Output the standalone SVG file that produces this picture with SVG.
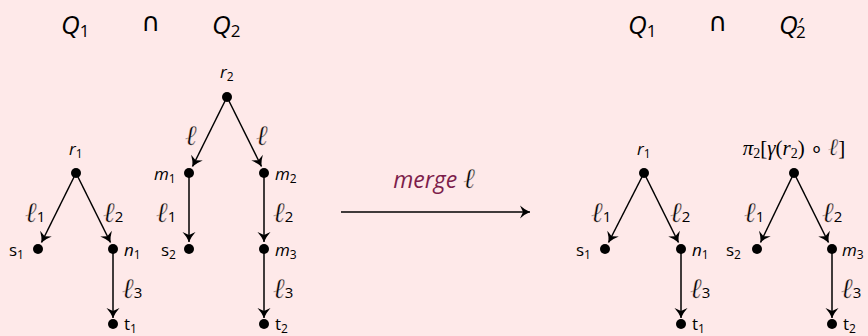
<svg xmlns="http://www.w3.org/2000/svg" width="868" height="336" viewBox="0 0 868 336">
<defs>
<style>
.t{font-family:"Open Sans","Noto Sans",sans-serif;font-size:17px;fill:#000}
.i{font-style:italic}
.s{font-family:"Open Sans","Noto Sans",sans-serif;font-size:12px;font-style:normal}
.q{font-family:"Open Sans","Noto Sans",sans-serif;font-size:26px;font-style:italic;fill:#000}
.qs{font-size:17px;font-style:normal}
.cap{font-family:"DejaVu Sans",sans-serif;font-size:26px;fill:#000}
.e{stroke:#000;stroke-width:1.5;fill:none;marker-end:url(#ah)}
.d{fill:#000}
.l{font-family:"DejaVu Serif",serif;font-style:italic;font-size:28px;fill:#000;stroke:#fee9e9;stroke-width:0.4}
.ls{font-family:"Open Sans","Noto Sans",sans-serif;font-size:15px;font-style:normal;stroke:none}
</style>
<marker id="ah" markerWidth="14" markerHeight="14" refX="0" refY="0" viewBox="-12 -7 14 14" orient="auto" markerUnits="userSpaceOnUse">
<path d="M0,0 Q-5,-2 -10,-6.5 L-7,0 L-10,6.5 Q-5,2 0,0 Z" fill="#000"/>
</marker>
</defs>
<rect width="868" height="336" fill="#fee9e9"/>

<g id="titles">
<text class="q" x="61" y="34">Q<tspan class="qs" dy="3">1</tspan></text>
<text class="cap" x="151" y="31" text-anchor="middle">∩</text>
<text class="q" x="212" y="34">Q<tspan class="qs" dy="3">2</tspan></text>
<text class="q" x="628" y="34">Q<tspan class="qs" dy="3">1</tspan></text>
<text class="cap" x="718" y="31" text-anchor="middle">∩</text>
<text class="q" x="779" y="34">Q<tspan font-size="20" dy="-2">′</tspan><tspan class="qs" dx="-6" dy="6">2</tspan></text>
</g>

<g id="connectors">
<path class="e" d="M76,173 L41.5,242.5"/>
<path class="e" d="M76,173 L110.5,242.5"/>
<path class="e" d="M113,249 L113,318"/>
<path class="e" d="M227,97 L192.5,166.5"/>
<path class="e" d="M227,97 L261.5,166.5"/>
<path class="e" d="M189,173 L189,242"/>
<path class="e" d="M264,173 L264,242"/>
<path class="e" d="M264,249 L264,318"/>
<path class="e" d="M341,212 L530,212"/>
<path class="e" d="M644,173 L608.5,242.5"/>
<path class="e" d="M644,173 L678.5,242.5"/>
<path class="e" d="M681,249 L681,318"/>
<path class="e" d="M794,173 L760.5,242.5"/>
<path class="e" d="M794,173 L828.5,242.5"/>
<path class="e" d="M832,249 L832,318"/>
</g>

<g id="edge-labels">
<text class="l" x="25" y="222">ℓ<tspan class="ls">1</tspan></text>
<text class="l" x="103" y="222">ℓ<tspan class="ls">2</tspan></text>
<text class="l" x="122" y="298">ℓ<tspan class="ls">3</tspan></text>
<text class="l" x="185" y="145">ℓ</text>
<text class="l" x="256" y="145">ℓ</text>
<text class="l" x="156" y="222">ℓ<tspan class="ls">1</tspan></text>
<text class="l" x="273" y="222">ℓ<tspan class="ls">2</tspan></text>
<text class="l" x="273" y="298">ℓ<tspan class="ls">3</tspan></text>
<text class="l" x="591" y="222">ℓ<tspan class="ls">1</tspan></text>
<text class="l" x="670" y="222">ℓ<tspan class="ls">2</tspan></text>
<text class="l" x="690" y="298">ℓ<tspan class="ls">3</tspan></text>
<text class="l" x="744" y="222">ℓ<tspan class="ls">1</tspan></text>
<text class="l" x="822" y="222">ℓ<tspan class="ls">2</tspan></text>
<text class="l" x="841" y="298">ℓ<tspan class="ls">3</tspan></text>
<text x="434" y="188" text-anchor="middle"><tspan font-family="Open Sans" font-style="italic" font-size="23" fill="#7d1d4b">merge</tspan><tspan class="l" dx="6">ℓ</tspan></text>
</g>

<g id="r1"><circle class="d" cx="76" cy="173" r="5"/><text class="t i" x="69" y="155">r<tspan class="s" dy="3">1</tspan></text></g>
<g id="s1"><circle class="d" cx="38" cy="249" r="5"/><text class="t" x="9" y="256">s<tspan class="s" dy="3">1</tspan></text></g>
<g id="n1"><circle class="d" cx="113" cy="249" r="5"/><text class="t i" x="124" y="256">n<tspan class="s" dy="3">1</tspan></text></g>
<g id="t1"><circle class="d" cx="113" cy="324" r="5"/><text class="t" x="124" y="330">t<tspan class="s" dy="3">1</tspan></text></g>

<g id="r2"><circle class="d" cx="227" cy="97" r="5"/><text class="t i" x="220" y="78">r<tspan class="s" dy="3">2</tspan></text></g>
<g id="m1"><circle class="d" cx="189" cy="173" r="5"/><text class="t i" x="154" y="180">m<tspan class="s" dy="3">1</tspan></text></g>
<g id="m2"><circle class="d" cx="264" cy="173" r="5"/><text class="t i" x="275" y="180">m<tspan class="s" dy="3">2</tspan></text></g>
<g id="s2"><circle class="d" cx="189" cy="249" r="5"/><text class="t" x="161" y="256">s<tspan class="s" dy="3">2</tspan></text></g>
<g id="m3"><circle class="d" cx="264" cy="249" r="5"/><text class="t i" x="275" y="256">m<tspan class="s" dy="3">3</tspan></text></g>
<g id="t2"><circle class="d" cx="264" cy="324" r="5"/><text class="t" x="275" y="330">t<tspan class="s" dy="3">2</tspan></text></g>

<g id="r1b"><circle class="d" cx="644" cy="173" r="5"/><text class="t i" x="637" y="155">r<tspan class="s" dy="3">1</tspan></text></g>
<g id="s1b"><circle class="d" cx="605" cy="249" r="5"/><text class="t" x="576" y="256">s<tspan class="s" dy="3">1</tspan></text></g>
<g id="n1b"><circle class="d" cx="681" cy="249" r="5"/><text class="t i" x="692" y="256">n<tspan class="s" dy="3">1</tspan></text></g>
<g id="t1b"><circle class="d" cx="681" cy="324" r="5"/><text class="t" x="692" y="330">t<tspan class="s" dy="3">1</tspan></text></g>

<g id="root2b"><circle class="d" cx="794" cy="173" r="5"/><text x="794" y="155" text-anchor="middle" font-family="Liberation Serif,serif" font-size="21" fill="#000"><tspan font-style="italic">π</tspan><tspan font-size="14" dy="3">2</tspan><tspan dy="-3">[</tspan><tspan font-style="italic">γ</tspan>(<tspan font-style="italic">r</tspan><tspan font-size="14" dy="3">2</tspan><tspan dy="-3">) ∘ </tspan><tspan font-family="DejaVu Serif" font-style="italic" font-size="24" stroke="#fee9e9" stroke-width="0.4">ℓ</tspan>]</text></g>
<g id="s2b"><circle class="d" cx="757" cy="249" r="5"/><text class="t" x="726" y="256">s<tspan class="s" dy="3">2</tspan></text></g>
<g id="m3b"><circle class="d" cx="832" cy="249" r="5"/><text class="t i" x="842" y="256">m<tspan class="s" dy="3">3</tspan></text></g>
<g id="t2b"><circle class="d" cx="832" cy="324" r="5"/><text class="t" x="843" y="330">t<tspan class="s" dy="3">2</tspan></text></g>
</svg>
